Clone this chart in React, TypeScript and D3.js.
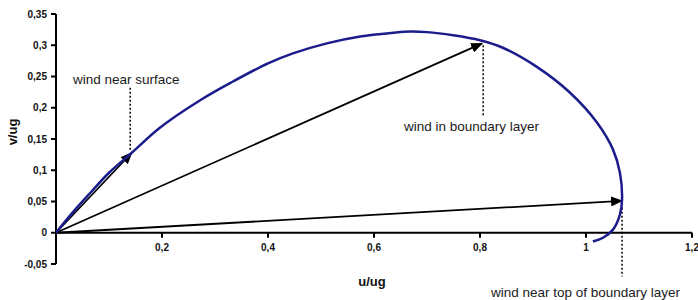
import { useMemo } from 'react';
import * as d3 from 'd3';

// hodograph of the wind in the boundary layer
const curveU = [0, 0.03, 0.065, 0.1, 0.143, 0.196, 0.272, 0.334, 0.4, 0.447, 0.511, 0.574, 0.636, 0.668, 0.7, 0.749, 0.8, 0.843, 0.908, 0.97, 1.021, 1.051, 1.064, 1.068, 1.064, 1.051, 1.032, 1.013];
const curveV = [0, 0.031, 0.064, 0.096, 0.128, 0.168, 0.212, 0.242, 0.271, 0.287, 0.303, 0.314, 0.32, 0.322, 0.321, 0.316, 0.308, 0.296, 0.265, 0.224, 0.176, 0.133, 0.096, 0.053, 0.029, 0.005, -0.008, -0.014];

// wind vectors from the origin
const vectorU = [0.143, 0.804, 1.068];
const vectorV = [0.128, 0.303, 0.051];

// labels and their dotted leaders (u, v from, v to)
const labelText = ['wind near surface', 'wind in boundary layer', 'wind near top of boundary layer'];
const leaderU = [0.14, 0.806, 1.068];
const leaderTop = [0.232, 0.3, 0.04];
const leaderBottom = [0.133, 0.188, -0.07];

const xTicks = [0.2, 0.4, 0.6, 0.8, 1, 1.2];
const xTickLabels = ['0,2', '0,4', '0,6', '0,8', '1', '1,2'];
const yTicks = [-0.05, 0, 0.05, 0.1, 0.15, 0.2, 0.25, 0.3, 0.35];
const yTickLabels = ['-0,05', '0', '0,05', '0,1', '0,15', '0,2', '0,25', '0,3', '0,35'];

const W = 698;
const H = 300;
const font = 'Arial, "Liberation Sans", sans-serif';

export default function App() {
  const x = d3.scaleLinear().domain([0, 1.2]).range([56, 692]);
  const y = d3.scaleLinear().domain([-0.05, 0.35]).range([264, 14]);

  const curvePath = useMemo(() => {
    const pts = curveU.map((u, i) => [u, curveV[i]] as [number, number]);
    return d3.line<[number, number]>()
      .x(d => x(d[0]))
      .y(d => y(d[1]))
      .curve(d3.curveCatmullRom.alpha(0.5))(pts) ?? '';
  }, []);

  // label anchor positions in pixels (start of text, baseline)
  const labelPos = [
    { x: 73, y: 84 },
    { x: 404, y: 131 },
    { x: 491, y: 297 },
  ];

  return (
    <svg width={W} height={H} style={{ position: 'absolute', left: 0, top: 0, background: '#fff' }}>
      <defs>
        <marker id="head" markerUnits="userSpaceOnUse" markerWidth="12" markerHeight="10"
          refX="11" refY="5" orient="auto">
          <path d="M0,0 L12,5 L0,10 Z" fill="#000" />
        </marker>
      </defs>

      {/* axes */}
      <line x1={x(0)} x2={x(1.2)} y1={y(0)} y2={y(0)} stroke="#000" strokeWidth={2} />
      <line x1={x(0)} x2={x(0)} y1={y(-0.05)} y2={y(0.35)} stroke="#000" strokeWidth={2} />

      {yTicks.map((t, i) => (
        <g key={'y' + i}>
          <line x1={x(0) - 5} x2={x(0)} y1={y(t)} y2={y(t)} stroke="#000" strokeWidth={2} />
          <text x={x(0) - 9} y={y(t)} dy="0.35em" textAnchor="end" fontFamily={font}
            fontSize={10} fontWeight="bold" fill="#111">{yTickLabels[i]}</text>
        </g>
      ))}
      {xTicks.map((t, i) => (
        <g key={'x' + i}>
          <line x1={x(t)} x2={x(t)} y1={y(0)} y2={y(0) + 5} stroke="#000" strokeWidth={2} />
          <text x={x(t)} y={y(0) + 18} textAnchor="middle" fontFamily={font}
            fontSize={10} fontWeight="bold" fill="#111">{xTickLabels[i]}</text>
        </g>
      ))}

      <text transform="translate(17,132) rotate(-90)" textAnchor="middle" fontFamily={font}
        fontSize={13} fontWeight="bold" fill="#111">v/ug</text>
      <text x={372} y={286} textAnchor="middle" fontFamily={font}
        fontSize={13} fontWeight="bold" fill="#111">u/ug</text>

      {/* dotted leaders */}
      {leaderU.map((u, i) => (
        <line key={'l' + i} x1={x(u)} x2={x(u)} y1={y(leaderTop[i])} y2={y(leaderBottom[i])}
          stroke="#000" strokeWidth={1.5} strokeDasharray="2,2" />
      ))}

      {/* vectors */}
      {vectorU.map((u, i) => (
        <line key={'v' + i} x1={x(0)} y1={y(0)} x2={x(u)} y2={y(vectorV[i])}
          stroke="#000" strokeWidth={1.8} markerEnd="url(#head)" />
      ))}

      {/* hodograph */}
      <path d={curvePath} fill="none" stroke="#1c1c8c" strokeWidth={2.5} />

      {labelText.map((t, i) => (
        <text key={'t' + i} x={labelPos[i].x} y={labelPos[i].y} fontFamily={font}
          fontSize={13.5} fill="#1a1a1a">{t}</text>
      ))}
    </svg>
  );
}
